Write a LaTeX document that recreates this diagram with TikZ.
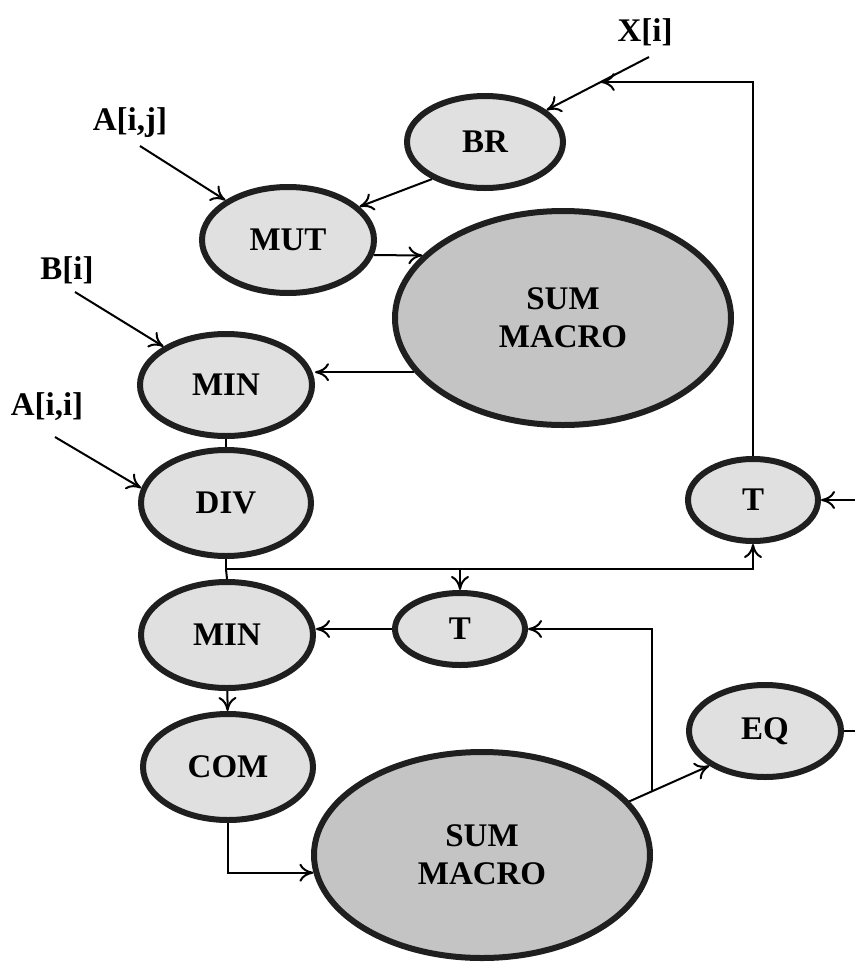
\documentclass[tikz,border=0pt]{standalone}
\usepackage{fontspec}
\setmainfont{Liberation Serif}
\usetikzlibrary{shapes.geometric, arrows.meta, calc}

\begin{document}
\begin{tikzpicture}[x=0.5pt, y=-0.5pt,
	font=\fontsize{16.5}{19}\selectfont\bfseries,
	>={To[length=7pt, width=9pt]},
	op/.style={ellipse, draw=black!88, line width=3pt, fill=black!12, inner sep=0pt, align=center},
	macro/.style={op, fill=black!23},
	wire/.style={line width=1pt}]
	\useasboundingbox (0, 0) rectangle (855, 964);

	\node[op, minimum width=78pt, minimum height=46pt] (br) at (485, 142) {BR};
	\node[op, minimum width=86pt, minimum height=53pt] (mut) at (288, 240) {MUT};
	\node[macro, minimum width=168pt, minimum height=107pt] (sumA) at (563, 318) {SUM\\MACRO};
	\node[op, minimum width=86pt, minimum height=51pt] (minA) at (226, 385) {MIN};
	\node[op, minimum width=85pt, minimum height=53pt] (div) at (226, 503) {DIV};
	\node[op, minimum width=86pt, minimum height=53pt] (minB) at (227, 635) {MIN};
	\node[op, minimum width=85pt, minimum height=53pt] (com) at (228, 767) {COM};
	\node[op, minimum width=65pt, minimum height=41pt] (tA) at (753, 500) {T};
	\node[op, minimum width=65pt, minimum height=36pt] (tB) at (460, 629) {T};
	\node[op, minimum width=76pt, minimum height=46pt] (eq) at (765, 731) {EQ};
	\node[macro, minimum width=168pt, minimum height=103pt] (sumB) at (482, 855) {SUM\\MACRO};

	\node (xi) at (645, 32) {X[i]};
	\node (aij) at (130, 123) {A[i,j]};
	\node (bi) at (67, 270) {B[i]};
	\node (aii) at (47, 407) {A[i,i]};

	\coordinate (xin) at (649, 57);
	\coordinate (aijin) at (140, 146);
	\coordinate (biin) at (75, 292);
	\coordinate (aiiin) at (55, 437);
	\coordinate (tin) at (855, 500);
	\coordinate (eqout) at (855, 731);
	\coordinate (bus) at ($(div.south)+(0, 10)$);
	\coordinate (join) at ($(xin)!0.294!(br.center)$);
	\coordinate (tap) at ($(sumB.20)!0.28!(eq.212)$);

	\draw[wire, ->] (xin) -- (br);
	\draw[wire, ->] (aijin) -- (mut);
	\draw[wire, ->] (biin) -- (minA);
	\draw[wire, ->] (aiiin) -- (div.170);
	\draw[wire, ->] (br.215) -- (mut.25);
	\draw[wire, ->] (mut.350) -- (sumA.156);
	\draw[wire, ->] (sumA.200) -- (sumA.200 -| minA.east);
	\draw[wire] (minA) -- (div);

	\draw[wire, ->] (div.south) -- (bus) -| (tA.south);
	\draw[wire, ->] (bus -| tB.north) -- (tB.north);
	\draw[wire] (bus) -- (minB.north);
	\draw[wire, ->] (tin) -- (tA);
	\draw[wire, ->] (tA.north) |- (join);

	\draw[wire, ->] (tB.west) -- (tB.west -| minB.east);
	\draw[wire, ->] (minB) -- (com);
	\draw[wire, ->] (com.south) |- (sumB.186);
	\draw[wire, ->] (sumB.20) -- (eq.212);
	\draw[wire, ->] (tap) |- (tB.east);
	\draw[wire] (eq.east) -- (eqout);
\end{tikzpicture}
\end{document}
